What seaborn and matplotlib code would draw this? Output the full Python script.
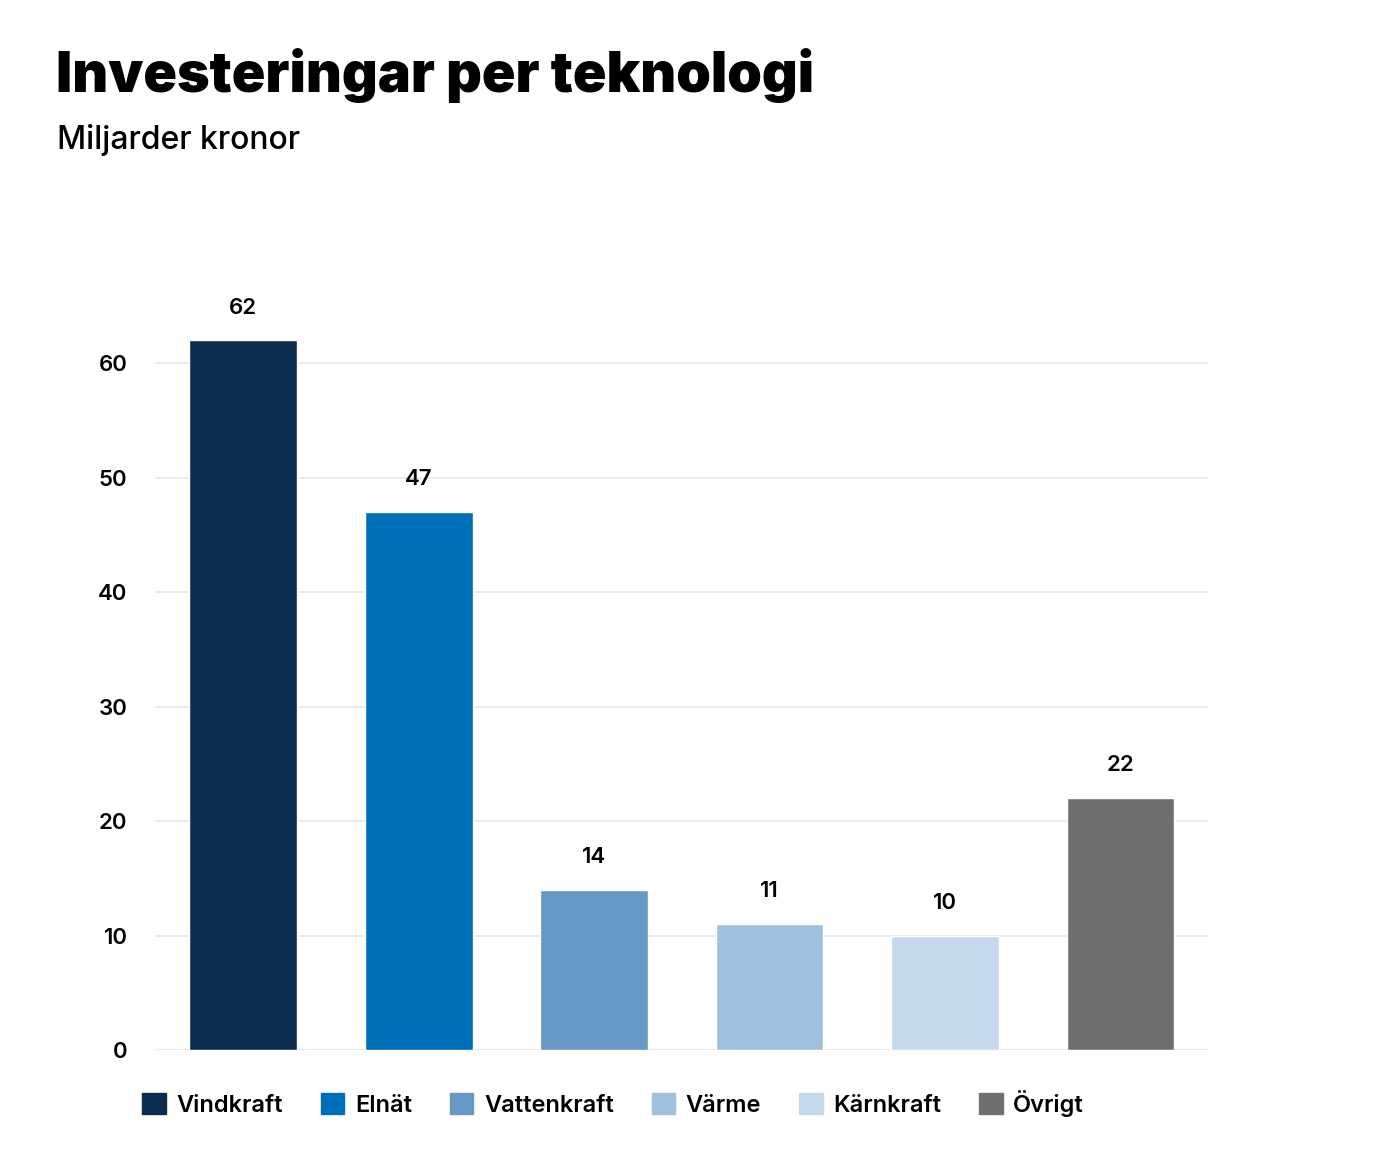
import pandas as pd
import matplotlib.pyplot as plt
import seaborn as sns
from matplotlib.patches import Patch

categories = ["Vindkraft", "Elnät", "Vattenkraft", "Värme", "Kärnkraft", "Övrigt"]
values = [62, 47, 14, 11, 10, 22]
colors = ["#0a2d50", "#006fba", "#6699c6", "#9fc1df", "#c5d9ed", "#706f6f"]

sns.set_style("white")
plt.rcParams["font.family"] = ["Inter", "DejaVu Sans"]
plt.rcParams["text.color"] = "black"
plt.rcParams["ytick.color"] = "black"

df = pd.DataFrame({"tech": categories, "value": values})

fig = plt.figure(figsize=(14, 11.66), dpi=100)
ax = fig.add_axes([0.111, 0.0995, 0.752, 0.638])
sns.barplot(data=df, x="tech", y="value", hue="tech", palette=colors,
            width=0.615, legend=False, ax=ax, saturation=1)

for i, v in enumerate(values):
    ax.text(i, v + 2.0, str(v), ha="center", va="bottom", fontsize=16, fontweight="semibold")

ax.set_ylim(0, 65)
ax.set_xlim(-0.5, 5.5)
ax.set_yticks(range(0, 61, 10))
ax.yaxis.grid(True, color="#e6e6e6", linewidth=1.2)
ax.set_axisbelow(True)
ax.set_xticks([])
ax.set_xlabel("")
ax.set_ylabel("")
ax.tick_params(axis="y", labelsize=16, length=0, pad=20)
for lbl in ax.get_yticklabels():
    lbl.set_fontweight("semibold")
sns.despine(ax=ax, left=True, bottom=True)

handles = [Patch(color=c, label=l) for c, l in zip(colors, categories)]
leg = fig.legend(handles=handles, loc="center", bbox_to_anchor=(0.438, 0.054), ncol=6,
                 frameon=False, fontsize=17, handlelength=1.0, handleheight=1.0,
                 columnspacing=1.6, handletextpad=0.45)
for t in leg.get_texts():
    t.set_fontweight("semibold")

fig.text(0.04, 0.935, "Investeringar per teknologi", fontsize=40, fontweight="black", va="center")
fig.text(0.041, 0.88, "Miljarder kronor", fontsize=23, fontweight="medium", va="center")

fig.savefig("out.png", dpi=100)
